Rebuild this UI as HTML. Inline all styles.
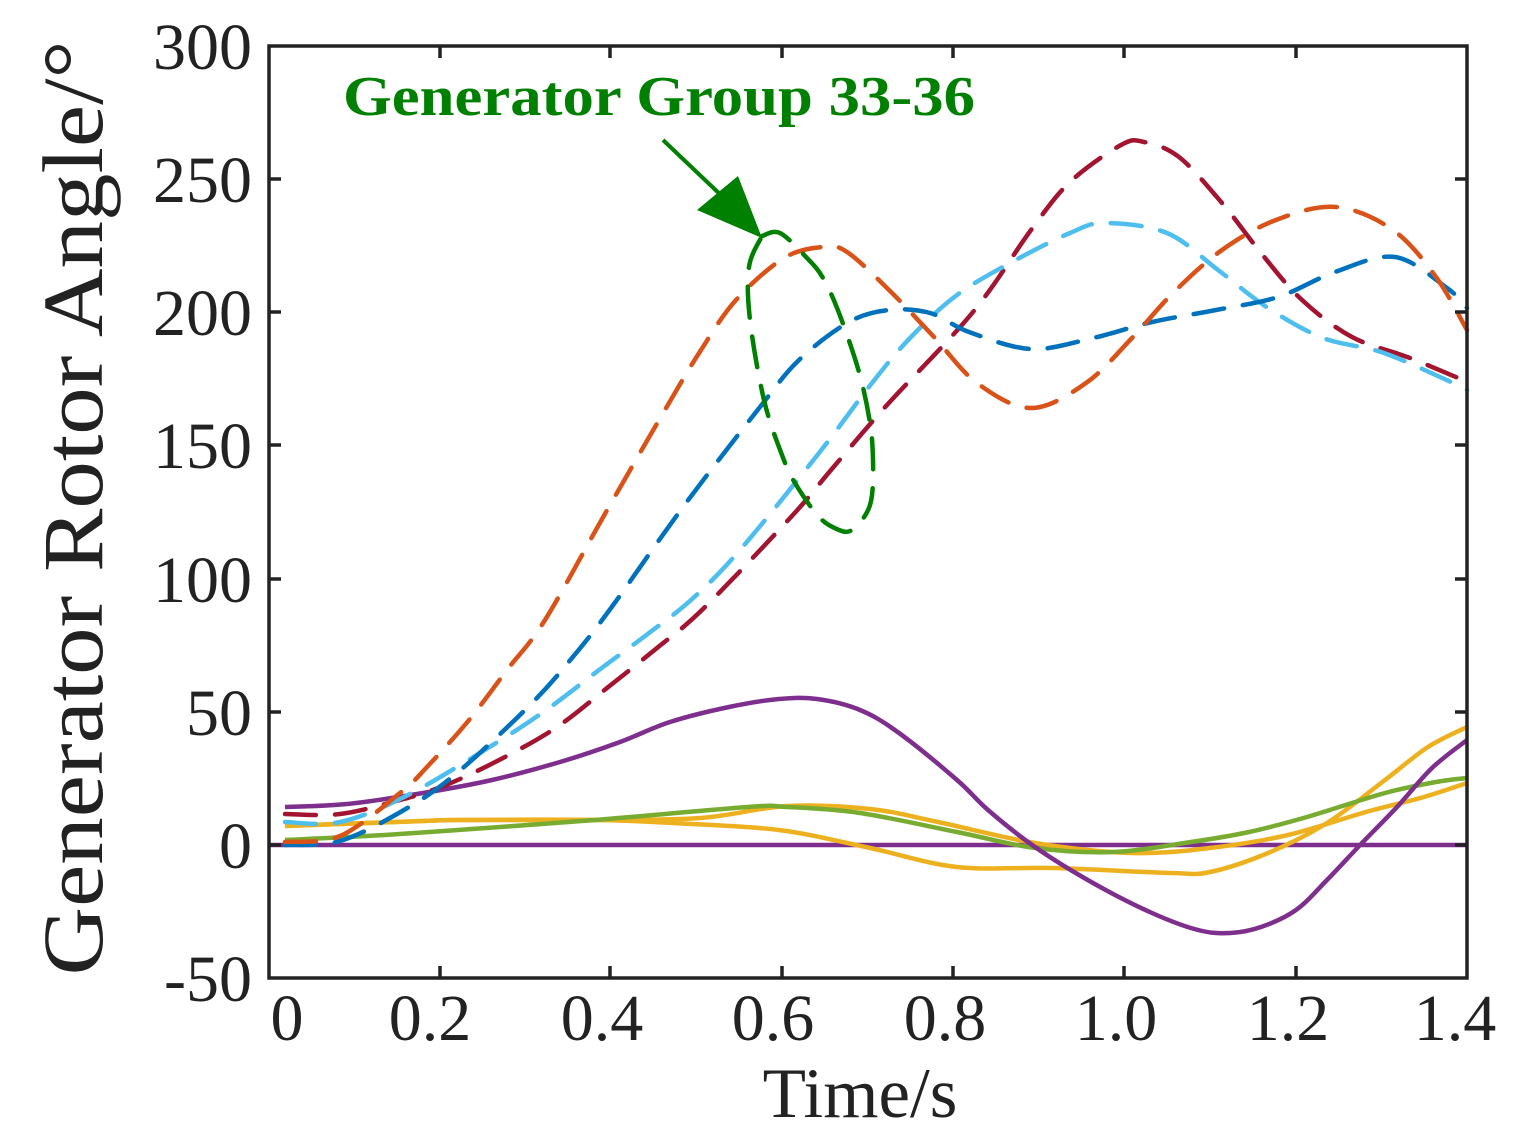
<!DOCTYPE html>
<html><head><meta charset="utf-8"><style>html,body{margin:0;padding:0;background:#fff}svg{display:block}</style></head>
<body>
<svg id="s" width="1517" height="1138" viewBox="0 0 1517 1138" xmlns="http://www.w3.org/2000/svg" font-family="'Liberation Serif', serif">
<rect width="1517" height="1138" fill="#fff"/>
<g fill="none" stroke-width="4.5" stroke-linejoin="round">
<path stroke="#7E2F8E" d="M269,845H1467"/>
<polyline class="c" stroke="#EDB120" points="285,826 423,821 461,820 595,820 700,818 787,806 870,809 938,822 1035,843 1132,853 1210,848 1288,835 1366,812 1424,797 1467,783"/>
<polyline class="c" stroke="#EDB120" points="285,826 423,821 461,820 595,820 672,823 779,830 870,848 957,867 1054,868 1171,873 1210,872 1268,853 1327,823 1385,780 1428,747 1467,727"/>
<polyline class="c" stroke="#77AC30" points="285,840 385,835 500,827 595,820 748,807 787,807 860,813 957,832 1035,848 1113,852 1191,842 1249,832 1307,817 1385,793 1436,782 1467,778"/>
<polyline class="c" stroke="#7E2F8E" points="285,807 347,804 423,793 492,780 560,762 620,742 670,722 729,707 779,699 817,699 860,710 899,733 957,780 988,810 1035,847 1093,883 1152,913 1198,930 1230,933 1261,927 1296,910 1327,880 1362,843 1397,807 1432,768 1467,740"/>
<g stroke-dasharray="31 19" stroke-linecap="round">
<polyline class="c" stroke="#A2142F" points="285,814 340,814 400,800 446,785 503,758 557,727 607,688 657,648 704,608 791,517 831,470 887,405 973,312 1031,230 1070,182 1121,145 1144,142 1179,157 1222,203 1261,253 1302,300 1352,337 1410,358 1470,383"/>
<polyline class="c" stroke="#4DBEEE" points="285,822 340,822 408,795 496,743 549,708 599,670 649,633 691,600 740,550 819,453 872,383 911,337 957,295 1012,262 1070,233 1105,223 1167,233 1218,270 1268,308 1323,338 1381,352 1440,377 1467,390"/>
<polyline class="c" stroke="#0072BD" points="285,845 340,841 404,810 457,773 530,705 572,658 611,608 683,507 760,407 799,360 849,322 889,310 930,313 969,332 1031,349 1093,338 1152,322 1216,310 1278,297 1335,272 1395,257 1447,288 1467,308"/>
<polyline class="c" stroke="#D95319" points="285,842 340,836 400,793 427,767 469,720 507,670 545,620 606,512 669,403 701,350 736,300 784,258 823,247 847,252 889,290 934,337 977,383 1031,408 1086,383 1132,338 1173,293 1222,250 1276,220 1336,207 1393,230 1436,277 1467,330"/>
<polyline class="c" stroke="#008000" points="762,236 780,233 807,258 823,278 839,313 859,372 870,423 873,460 872,495 866,514 852,530 839,530 819,517 795,483 782,455 764,400 750,320 749,267 762,236"/>
</g>
</g>
<line x1="663" y1="140" x2="725" y2="199" stroke="#008000" stroke-width="4"/>
<polygon points="762,238 697,210 738,176" fill="#008000"/>
<text x="343" y="115" font-size="56" font-weight="bold" fill="#008000" textLength="632" lengthAdjust="spacingAndGlyphs">Generator Group 33-36</text>
<rect x="269" y="46" width="1198" height="932" fill="none" stroke="#222" stroke-width="3.5"/>
<g stroke="#222" stroke-width="3.5">
<path d="M269,179h12M269,312h12M269,445h12M269,579h12M269,712h12M269,845h12M1467,179h-12M1467,312h-12M1467,445h-12M1467,579h-12M1467,712h-12M1467,845h-12"/>
<path d="M440,978v-12M610,978v-12M782,978v-12M953,978v-12M1124,978v-12M1296,978v-12M440,46v12M610,46v12M782,46v12M953,46v12M1124,46v12M1296,46v12"/>
</g>
<g font-size="66" fill="#222" text-anchor="end">
<text x="252" y="69">300</text><text x="252" y="202">250</text><text x="252" y="335">200</text><text x="252" y="468">150</text><text x="252" y="602">100</text><text x="252" y="735">50</text><text x="252" y="868">0</text><text x="252" y="1001">-50</text>
</g>
<g font-size="66" fill="#222" text-anchor="middle">
<text x="287" y="1040">0</text><text x="430" y="1040">0.2</text><text x="602" y="1040">0.4</text><text x="773" y="1040">0.6</text><text x="945" y="1040">0.8</text><text x="1116" y="1040">1.0</text><text x="1288" y="1040">1.2</text><text x="1455" y="1040">1.4</text>
<text x="860" y="1117" font-size="71">Time/s</text>
<text transform="translate(102,508) rotate(-90)" font-size="86" textLength="935" lengthAdjust="spacingAndGlyphs">Generator Rotor Angle/°</text>
</g>
</svg>
<script>
document.querySelectorAll('polyline.c').forEach(function(pl){
 var p=pl.getAttribute('points').trim().split(/\s+/).map(function(s){return s.split(',').map(Number);});
 var d='M'+p[0][0]+','+p[0][1];
 for(var i=0;i<p.length-1;i++){
  var p0=p[i-1]||p[i],p1=p[i],p2=p[i+1],p3=p[i+2]||p2;
  var c1=[p1[0]+(p2[0]-p0[0])/6,p1[1]+(p2[1]-p0[1])/6];
  var c2=[p2[0]-(p3[0]-p1[0])/6,p2[1]-(p3[1]-p1[1])/6];
  d+=' C'+c1[0].toFixed(1)+','+c1[1].toFixed(1)+' '+c2[0].toFixed(1)+','+c2[1].toFixed(1)+' '+p2[0]+','+p2[1];
 }
 var path=document.createElementNS('http://www.w3.org/2000/svg','path');
 for(var k=0;k<pl.attributes.length;k++){var a=pl.attributes[k];if(a.name!=='points'&&a.name!=='class')path.setAttribute(a.name,a.value);}
 path.setAttribute('d',d);
 pl.parentNode.replaceChild(path,pl);
});
</script>
</body></html>
